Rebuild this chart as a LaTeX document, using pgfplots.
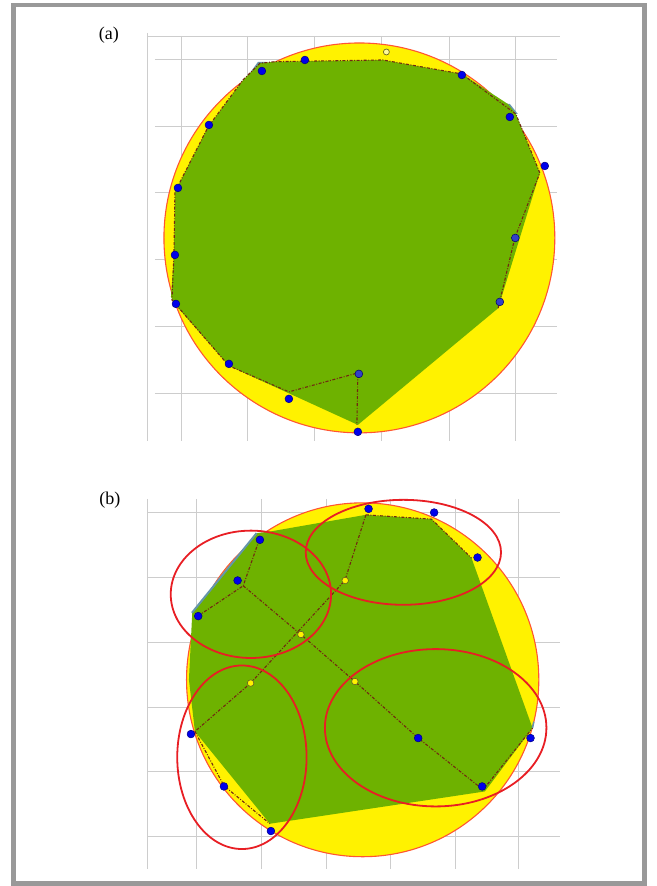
\documentclass[border=0pt]{standalone}
\usepackage{fontspec}
\setmainfont{Liberation Serif}
\usepackage{pgfplots}
\pgfplotsset{compat=1.18}
\definecolor{frame}{RGB}{153,153,153}
\definecolor{gridc}{RGB}{205,205,205}
\definecolor{leaf}{RGB}{110,178,0}
\definecolor{rim}{RGB}{255,85,50}
\definecolor{ellc}{RGB}{232,30,36}
\definecolor{dashc}{RGB}{115,40,18}
\definecolor{ptblue}{RGB}{0,0,235}
\definecolor{ptblue2}{RGB}{50,64,200}
\definecolor{teal2}{RGB}{100,150,170}
\tikzset{dd/.style={dashc, line width=1.1pt, dash pattern=on 3pt off 1.6pt on 0.9pt off 1.6pt}}
\begin{document}
\begin{tikzpicture}
\begin{axis}[
  scale only axis, width=657pt, height=886pt,
  xmin=0, xmax=657, ymin=0, ymax=886, y dir=reverse,
  hide axis, clip=false,
]
\path (axis cs:0,0) rectangle (axis cs:657,886);
% ---------- frame
\draw[frame, line width=4.6pt] (axis cs:13.5,5) rectangle (axis cs:645,884);
% ---------- panel (a) grid
\draw[gridc, line width=0.8pt] (axis cs:147,36) -- (axis cs:560,36);
\draw[gridc, line width=0.7pt] (axis cs:147.5,33) -- (axis cs:147.5,441);
\draw[gridc, line width=0.7pt] (axis cs:181,36) -- (axis cs:181,441);
\draw[gridc, line width=0.7pt] (axis cs:247,36) -- (axis cs:247,441);
\draw[gridc, line width=0.7pt] (axis cs:314,36) -- (axis cs:314,441);
\draw[gridc, line width=0.7pt] (axis cs:381,36) -- (axis cs:381,441);
\draw[gridc, line width=0.7pt] (axis cs:449,36) -- (axis cs:449,441);
\draw[gridc, line width=0.7pt] (axis cs:516,36) -- (axis cs:516,441);
\draw[gridc, line width=0.7pt] (axis cs:155,59.5) -- (axis cs:557,59.5);
\draw[gridc, line width=0.7pt] (axis cs:155,126) -- (axis cs:557,126);
\draw[gridc, line width=0.7pt] (axis cs:155,192.7) -- (axis cs:557,192.7);
\draw[gridc, line width=0.7pt] (axis cs:155,259) -- (axis cs:557,259);
\draw[gridc, line width=0.7pt] (axis cs:155,326) -- (axis cs:557,326);
\draw[gridc, line width=0.7pt] (axis cs:155,393) -- (axis cs:557,393);
% ---------- panel (b) grid
\draw[gridc, line width=0.7pt] (axis cs:147.6,499) -- (axis cs:147.6,869);
\draw[gridc, line width=0.7pt] (axis cs:196.5,499) -- (axis cs:196.5,869);
\draw[gridc, line width=0.7pt] (axis cs:261.5,499) -- (axis cs:261.5,869);
\draw[gridc, line width=0.7pt] (axis cs:326,499) -- (axis cs:326,869);
\draw[gridc, line width=0.7pt] (axis cs:390.5,499) -- (axis cs:390.5,869);
\draw[gridc, line width=0.7pt] (axis cs:455,499) -- (axis cs:455,869);
\draw[gridc, line width=0.7pt] (axis cs:519,499) -- (axis cs:519,869);
\draw[gridc, line width=0.7pt] (axis cs:148,513) -- (axis cs:560,513);
\draw[gridc, line width=0.7pt] (axis cs:148,578) -- (axis cs:560,578);
\draw[gridc, line width=0.7pt] (axis cs:148,643) -- (axis cs:560,643);
\draw[gridc, line width=0.7pt] (axis cs:148,707.5) -- (axis cs:560,707.5);
\draw[gridc, line width=0.7pt] (axis cs:148,772) -- (axis cs:560,772);
\draw[gridc, line width=0.7pt] (axis cs:148,837) -- (axis cs:560,837);
% ---------- labels
\node at (axis cs:109,35) {\fontsize{18}{21}\selectfont (a)};
\node at (axis cs:110,500) {\fontsize{18}{21}\selectfont (b)};
% ---------- panel (a)
\draw[rim, fill=yellow, line width=1.1pt] (axis cs:359.5,238) ellipse [x radius=195.5, y radius=195];
\addplot[teal2, fill=teal2, draw=none] coordinates {(250,73) (258,62) (266,62)} -- cycle;
\addplot[teal2, fill=teal2, draw=none] coordinates {(500,103) (510,104) (518,114) (512,114)} -- cycle;
\addplot[fill=leaf, draw=none] coordinates {
 (260,63.3) (275,61.7) (383,60) (462,74) (508,104) (516,114) (540,173)
 (498.3,308.3) (358,425) (229,366) (175.6,305) (171,297) (174,255)
 (175,192) (208.3,126.7) (243.3,80)} -- cycle;
\addplot[dd] coordinates {
 (498.3,308.3) (515,238) (540,173) (516,114) (462,74) (383,60) (275,61.7)
 (260,63.3) (243,80) (208.3,126.7) (175,192) (174,255) (172,300)
 (229,366) (289,392) (358,373) (357,425)};
\addplot[only marks, mark=*, mark size=3.9pt, mark options={fill=ptblue, draw=blue!50!black, line width=0.5pt}] coordinates {
 (262,71) (305,60) (462,75) (510,117) (545,166) (229,364) (289,399)
 (358,432) (176,304) (175,255) (178,188) (209,125)};
\addplot[only marks, mark=*, mark size=3.9pt, mark options={fill=ptblue2, draw=blue!40!black, line width=0.5pt}] coordinates {
 (515.5,238) (500,302) (359,374)};
\addplot[only marks, mark=*, mark size=3pt, mark options={fill=yellow!40, draw=olive!70!black, line width=0.7pt}] coordinates {(386.5,52)};
% ---------- panel (b)
\draw[rim, fill=yellow, line width=1.1pt] (axis cs:362.8,680) ellipse [x radius=176.2, y radius=177];
\addplot[fill=leaf, draw=none] coordinates {
 (256.7,533.3) (270,531.7) (366,515) (431.7,519.3) (471.7,558.3)
 (532.7,728.3) (485,791.7) (270,824) (195,731.7) (189,680) (192.3,613.3)} -- cycle;
\addplot[teal2, line width=2pt] coordinates {(192,613) (256.7,533.3)};
\addplot[teal2, line width=1.5pt] coordinates {(532.7,728.3) (534,722)};
\addplot[dd] coordinates {(198.3,616) (243.3,586) (260,538)};
\addplot[dd] coordinates {(243.3,586) (301,634.7) (355,681.7) (418.3,738.3) (483.3,790)};
\addplot[dd] coordinates {(366,515) (345,580.7) (250.7,683.3) (195,731.7)};
\addplot[dd] coordinates {(366,515) (431.7,519.3) (471.7,558.3)};
\addplot[dd] coordinates {(483.3,790) (532.7,728.3)};
\addplot[dd] coordinates {(195,731.7) (224,786) (270,824)};
\draw[ellc, line width=1.8pt] (axis cs:251,594.5) ellipse [x radius=80.2, y radius=63.7];
\draw[ellc, line width=1.8pt] (axis cs:403.5,552.5) ellipse [x radius=97.7, y radius=52.5];
\draw[ellc, line width=1.8pt] (axis cs:242,757.5) ellipse [x radius=64.7, y radius=91.8];
\draw[ellc, line width=1.8pt] (axis cs:435.8,728) ellipse [x radius=110.8, y radius=78.7];
\addplot[only marks, mark=*, mark size=3.9pt, mark options={fill=ptblue, draw=blue!50!black, line width=0.5pt}] coordinates {
 (368.7,509) (434.3,512.7) (477.7,557.7) (260,540) (237.7,580.7) (198.3,616.3)
 (191,734.3) (224,786.7) (271,831.3) (418.3,738.3) (530.7,738.3) (482.3,786.7)};
\addplot[only marks, mark=*, mark size=3.3pt, mark options={fill=yellow, draw=olive!60!black, line width=0.6pt}] coordinates {
 (345.3,580.7) (301,634.7) (250.7,683.3) (355,681.7)};
\end{axis}
\end{tikzpicture}
\end{document}
